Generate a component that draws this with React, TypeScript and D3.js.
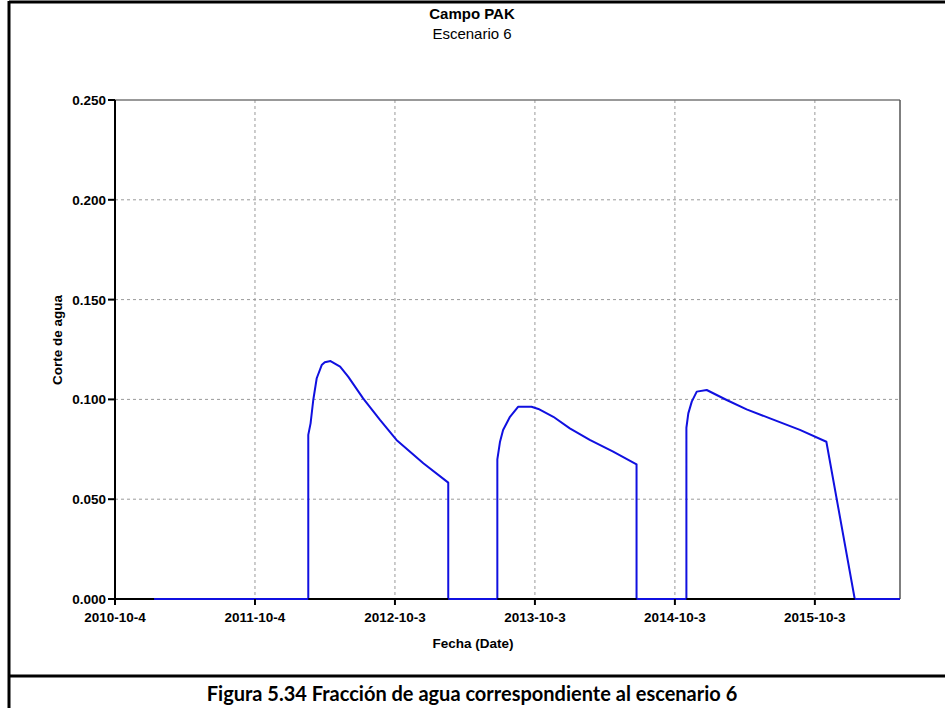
import React from "react";
import * as d3 from "d3";

const W = 945;
const H = 708;

const TITLE = "Campo PAK";
const SUBTITLE = "Escenario 6";
const Y_LABEL = "Corte de agua";
const X_LABEL = "Fecha (Date)";
const CAPTION = "Figura 5.34 Fracción de agua correspondiente al escenario 6";

const X_START = "2010-10-04";
const X_END = "2016-05-12";
const X_TICKS = ["2010-10-04", "2011-10-04", "2012-10-03", "2013-10-03", "2014-10-03", "2015-10-03"];
const X_TICK_LABELS = ["2010-10-4", "2011-10-4", "2012-10-3", "2013-10-3", "2014-10-3", "2015-10-3"];
const Y_TICKS = [0, 0.05, 0.1, 0.15, 0.2, 0.25];

const DATES = [
  "2011-01-14", "2012-02-20",
  "2012-02-20", "2012-02-26", "2012-03-04", "2012-03-13", "2012-03-26", "2012-04-03", "2012-04-18",
  "2012-05-13", "2012-06-03", "2012-07-12", "2012-08-25", "2012-10-07", "2012-12-16", "2013-02-19",
  "2013-02-19", "2013-06-27",
  "2013-06-27", "2013-07-04", "2013-07-12", "2013-07-30", "2013-08-20", "2013-09-24", "2013-10-12",
  "2013-11-20", "2014-01-02", "2014-02-23", "2014-04-25", "2014-06-25",
  "2014-06-25", "2014-11-02",
  "2014-11-02", "2014-11-07", "2014-11-16", "2014-11-29", "2014-12-25", "2015-02-15", "2015-04-08",
  "2015-06-08", "2015-08-25", "2015-11-02",
  "2016-01-15", "2016-05-12",
];
const WATER_CUT = [
  0, 0,
  0.0822, 0.088, 0.0997, 0.1106, 0.1172, 0.1186, 0.1192,
  0.1164, 0.1114, 0.1005, 0.0897, 0.0797, 0.068, 0.0583,
  0, 0,
  0.07, 0.0788, 0.0847, 0.0913, 0.0963, 0.0963, 0.0952,
  0.0913, 0.0855, 0.0797, 0.0738, 0.0675,
  0, 0,
  0.0858, 0.093, 0.0989, 0.1039, 0.1047, 0.0997, 0.095,
  0.0905, 0.0847, 0.0788,
  0, 0,
];

const parse = d3.utcParse("%Y-%m-%d");

export default function App() {
  const left = 115, right = 900, top = 100, bottom = 599;
  const x = d3.scaleUtc().domain([parse(X_START)!, parse(X_END)!]).range([left, right]);
  const y = d3.scaleLinear().domain([0, 0.25]).range([bottom, top]);
  const data = DATES.map((d, i) => ({ d: parse(d)!, v: WATER_CUT[i] }));
  const line = d3.line<{ d: Date; v: number }>().x((p) => x(p.d)).y((p) => y(p.v));
  const fmt = d3.format(".3f");
  const arial = "'Liberation Sans', Arial, sans-serif";
  const blue = "#1010e0";

  return (
    <svg width={W} height={H} style={{ position: "absolute", left: 0, top: 0, background: "#fff" }} fontFamily={arial}>
      <rect x={0} y={0} width={W} height={H} fill="#fff" />
      {/* frame */}
      <line x1={9} x2={W} y1={2} y2={2} stroke="#000" strokeWidth={3} />
      <line x1={9} x2={9} y1={1} y2={H} stroke="#000" strokeWidth={3} />
      <line x1={9} x2={W} y1={676} y2={676} stroke="#000" strokeWidth={3} />

      {/* titles */}
      <text x={472} y={19} textAnchor="middle" fontWeight="bold" fontSize={15}>{TITLE}</text>
      <text x={472} y={39} textAnchor="middle" fontSize={15}>{SUBTITLE}</text>

      {/* grid */}
      {Y_TICKS.filter((t) => t > 0 && t < 0.25).map((t) => (
        <line key={"gy" + t} x1={left} x2={right} y1={y(t)} y2={y(t)} stroke="#9a9a9a" strokeDasharray="3,3" strokeWidth={1} />
      ))}
      {X_TICKS.slice(1).map((t) => (
        <line key={"gx" + t} x1={x(parse(t)!)} x2={x(parse(t)!)} y1={top} y2={bottom} stroke="#9a9a9a" strokeDasharray="3,3" strokeWidth={1} />
      ))}
      <line x1={left} x2={right} y1={top} y2={top} stroke="#777" strokeWidth={1.5} />
      <line x1={right} x2={right} y1={top} y2={bottom} stroke="#555" strokeWidth={1.5} />

      {/* series */}
      <path d={line(data) || ""} fill="none" stroke={blue} strokeWidth={2} strokeLinejoin="round" />

      {/* axes */}
      <line x1={left} x2={left} y1={top} y2={bottom + 6} stroke="#000" strokeWidth={2} />
      <line x1={left - 7} x2={right} y1={bottom} y2={bottom} stroke="#000" strokeWidth={2} />
      <path d={line(data.slice(0, 2)) || ""} fill="none" stroke={blue} strokeWidth={2} />
      <path d={line(data.slice(16, 18)) || ""} fill="none" stroke={blue} strokeWidth={2} />
      <path d={line(data.slice(30, 32)) || ""} fill="none" stroke={blue} strokeWidth={2} />
      <path d={line(data.slice(42, 44)) || ""} fill="none" stroke={blue} strokeWidth={2} />
      {Y_TICKS.map((t) => (
        <g key={"ty" + t}>
          <line x1={left - 7} x2={left} y1={y(t)} y2={y(t)} stroke="#000" strokeWidth={2} />
          <text x={left - 9} y={y(t) + 5} textAnchor="end" fontWeight="bold" fontSize={13.5}>{fmt(t)}</text>
        </g>
      ))}
      {X_TICKS.map((t, i) => (
        <g key={"tx" + t}>
          <line x1={x(parse(t)!)} x2={x(parse(t)!)} y1={bottom} y2={bottom + 6} stroke="#000" strokeWidth={2} />
          <text x={x(parse(t)!)} y={bottom + 23} textAnchor="middle" fontWeight="bold" fontSize={13.5}>{X_TICK_LABELS[i]}</text>
        </g>
      ))}
      <text x={473} y={648} textAnchor="middle" fontWeight="bold" fontSize={13.5}>{X_LABEL}</text>
      <text transform={`translate(62,340) rotate(-90)`} textAnchor="middle" fontWeight="bold" fontSize={13.5}>{Y_LABEL}</text>

      {/* caption */}
      <text x={472} y={701} textAnchor="middle" fontWeight="bold" fontSize={20} fontFamily="Lato, 'Open Sans', sans-serif">{CAPTION}</text>
    </svg>
  );
}
